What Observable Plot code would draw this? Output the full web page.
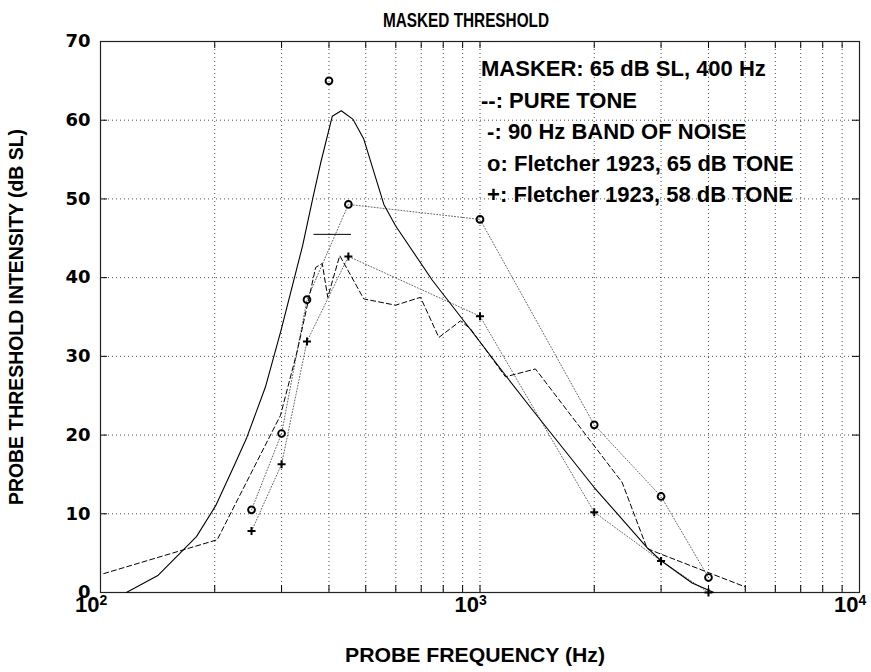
<!DOCTYPE html>
<html><head><meta charset="utf-8">
<script src="https://cdn.jsdelivr.net/npm/d3@7"></script>
<script src="https://cdn.jsdelivr.net/npm/@observablehq/plot@0.6"></script>
<style>html,body{margin:0;padding:0;background:#fff;} #chart svg{display:block;background:#fff;}</style>
</head><body><div id="chart"></div>
<script>
// ---- data ----
// solid line: 90 Hz band of noise masker
const noiseFreq  = [117, 142, 179, 201, 224, 243, 272, 299, 341, 363, 380, 408, 431, 463, 494, 558, 599, 748, 934, 1167, 1359, 1995, 2756, 2990, 3622, 4133];
const noiseLevel = [0, 2.2, 7.1, 11.0, 15.9, 19.7, 26.1, 33.3, 44.1, 50.2, 54.5, 60.5, 61.2, 60.1, 57.6, 49.3, 46.6, 39.7, 33.7, 27.6, 23.5, 13.4, 5.7, 4.1, 1.2, 0];
// dashed line: pure tone masker
const toneFreq  = [102, 203, 298, 330, 369, 384, 397, 427, 494, 599, 697, 779, 888, 944, 1167, 1400, 2368, 2756, 2952, 5008];
const toneLevel = [2.4, 6.7, 22.5, 30.7, 41.3, 41.8, 37.5, 42.8, 37.3, 36.5, 37.5, 32.4, 34.5, 33.5, 27.4, 28.4, 14.0, 5.6, 5.0, 0.7];
// noise band bar
const bandFreq  = [365, 456];
const bandLevel = [45.5, 45.5];
// Fletcher 1923, 65 dB tone (o)
const f65Freq  = [250, 300, 350, 450, 1000, 2000, 3000, 4000];
const f65Level = [10.5, 20.2, 37.2, 49.3, 47.4, 21.3, 12.2, 1.9];
// masker point (o, not connected)
const maskerFreq  = [400];
const maskerLevel = [65.0];
// Fletcher 1923, 58 dB tone (+)
const f58Freq  = [250, 300, 350, 450, 1000, 2000, 3000, 4000];
const f58Level = [7.8, 16.3, 31.9, 42.7, 35.1, 10.2, 4.0, 0];
// ticks
const yTicks = [0, 10, 20, 30, 40, 50, 60, 70];
const yGrid  = [10, 20, 30, 40, 50, 60];
const xMajor = [100, 1000, 10000];
const xMajorExp = ["2", "3", "4"];
const xMinor = [200, 300, 400, 500, 600, 700, 800, 900, 1000, 2000, 3000, 4000, 5000, 6000, 7000, 8000, 9000];
const annoLines = ["MASKER: 65 dB SL, 400 Hz", "--: PURE TONE", "\u00a0-: 90 Hz BAND OF NOISE", "\u00a0o: Fletcher 1923, 65 dB TONE", "\u00a0+: Fletcher 1923, 58 dB TONE"];
const annoX = 1000, annoTop = 66.5, annoStep = 4;
const titleText = "MASKED THRESHOLD";
const xLabelText = "PROBE FREQUENCY (Hz)";
const yLabelText = "PROBE THRESHOLD INTENSITY (dB SL)";

// ---- layout ----
const W = 871, H = 672, mL = 100, mR = 12, mT = 41, mB = 80;
const fw = W - mL - mR, fh = H - mT - mB;
const FONT = "'Liberation Sans', Arial, Helvetica, sans-serif";
const TICKLEN = 7;

const zip = (xs, ys) => xs.map((x, i) => ({x, y: ys[i]}));
const noise = zip(noiseFreq, noiseLevel);
const tone = zip(toneFreq, toneLevel);
const band = zip(bandFreq, bandLevel);
const f65 = zip(f65Freq, f65Level);
const masker = zip(maskerFreq, maskerLevel);
const f58 = zip(f58Freq, f58Level);

const plusSym = {draw(ctx) { const a = 4; ctx.moveTo(-a, 0); ctx.lineTo(a, 0); ctx.moveTo(0, -a); ctx.lineTo(0, a); }};

const chart = Plot.plot({
  width: W, height: H,
  marginLeft: mL, marginRight: mR, marginTop: mT, marginBottom: mB,
  x: {type: "log", domain: [100, 10000], axis: null},
  y: {domain: [0, 70], axis: null},
  style: {background: "#fff", overflow: "visible"},
  marks: [
    // grid
    Plot.ruleX(xMinor, {x: d => d, stroke: "#000", strokeOpacity: 0.7, strokeDasharray: "1,3", strokeWidth: 1}),
    Plot.ruleY(yGrid, {y: d => d, stroke: "#000", strokeOpacity: 0.7, strokeDasharray: "1,3", strokeWidth: 1}),
    // inward ticks
    Plot.tickX(xMinor, {x: d => d, insetTop: fh - TICKLEN, stroke: "#000", strokeWidth: 1}),
    Plot.tickX(xMinor, {x: d => d, insetBottom: fh - TICKLEN, stroke: "#000", strokeWidth: 1}),
    Plot.tickY(yTicks, {y: d => d, insetRight: fw - TICKLEN, stroke: "#000", strokeWidth: 1}),
    Plot.tickY(yTicks, {y: d => d, insetLeft: fw - TICKLEN, stroke: "#000", strokeWidth: 1}),
    Plot.frame({stroke: "#222", strokeWidth: 1.2}),
    // data
    Plot.line(f65, {x: "x", y: "y", stroke: "#666", strokeWidth: 1, strokeDasharray: "1,2"}),
    Plot.line(f58, {x: "x", y: "y", stroke: "#666", strokeWidth: 1, strokeDasharray: "1,2"}),
    Plot.line(tone, {x: "x", y: "y", stroke: "#000", strokeWidth: 1, strokeDasharray: "5,3"}),
    Plot.line(noise, {x: "x", y: "y", stroke: "#000", strokeWidth: 1.1}),
    Plot.line(band, {x: "x", y: "y", stroke: "#000", strokeWidth: 1}),
    Plot.dot(f65, {x: "x", y: "y", r: 3.4, stroke: "#000", strokeWidth: 1.9, fill: "none"}),
    Plot.dot(masker, {x: "x", y: "y", r: 3.4, stroke: "#000", strokeWidth: 1.9, fill: "none"}),
    Plot.dot(f58, {x: "x", y: "y", symbol: plusSym, stroke: "#000", strokeWidth: 2}),
    // annotations
    Plot.text(annoLines, {x: () => annoX, y: (d, i) => annoTop - annoStep * i, text: d => d, textAnchor: "start", dx: 1,
      fontSize: 22, fontWeight: "bold", fontFamily: FONT, fill: "#000"}),
    // y tick labels
    Plot.text(yTicks, {y: d => d, frameAnchor: "left", text: d => String(d), textAnchor: "end", dx: -10,
      fontSize: 18, fontWeight: "bold", fontFamily: "'DejaVu Sans', sans-serif", fill: "#000"}),
    // x tick labels 10^n
    Plot.text(xMajor, {x: d => d, frameAnchor: "bottom", text: () => "10", textAnchor: "end", dx: -1, dy: 19,
      fontSize: 22, fontWeight: "bold", fontFamily: FONT, fill: "#000"}),
    Plot.text(xMajor, {x: d => d, frameAnchor: "bottom", text: (d, i) => xMajorExp[i], textAnchor: "start", dx: -1, dy: 12,
      fontSize: 14, fontWeight: "bold", fontFamily: FONT, fill: "#000"}),
    // title and axis labels
    Plot.text([titleText], {frameAnchor: "top", text: d => d, textAnchor: "middle", dy: -29, dx: -14,
      fontSize: 20, fontWeight: "bold", fontFamily: FONT, fill: "#000"}),
    Plot.text([xLabelText], {frameAnchor: "bottom", text: d => d, textAnchor: "middle", dy: 69, dx: -5,
      fontSize: 21, fontWeight: "bold", fontFamily: FONT, fill: "#000"}),
    Plot.text([yLabelText], {frameAnchor: "left", text: d => d, textAnchor: "middle", rotate: -90, dx: -84,
      fontSize: 20, fontWeight: "bold", fontFamily: FONT, fill: "#000"})
  ]
});
// condense title / axis labels to the reference's narrow bold face
const fit = {[titleText]: 166, [xLabelText]: 260, [yLabelText]: 376};
d3.select(chart).selectAll("text").each(function() {
  const t = this.textContent;
  if (fit[t]) { this.setAttribute("textLength", fit[t]); this.setAttribute("lengthAdjust", "spacingAndGlyphs"); }
});
document.getElementById("chart").appendChild(chart);
</script>
</body></html>
